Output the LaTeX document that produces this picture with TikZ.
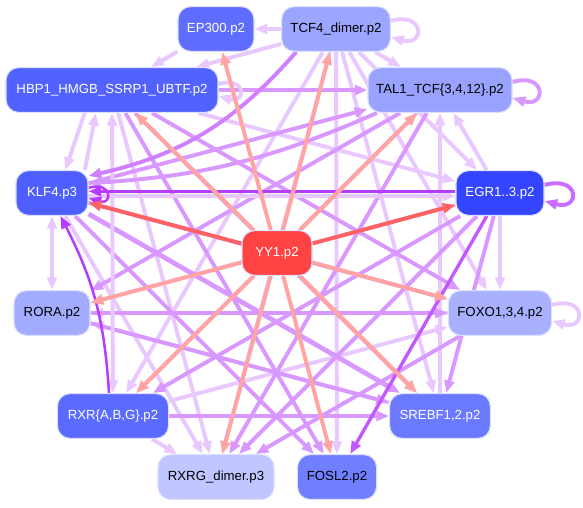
\documentclass[tikz,border=0pt]{standalone}
\usepackage{fontspec}
\setmainfont{Liberation Sans}
\usepackage{xcolor}
\usetikzlibrary{positioning, arrows.meta, backgrounds}
\definecolor{yyred}{HTML}{FF4242}
\definecolor{cEP}{HTML}{5F6DFF}
\definecolor{cTCF}{HTML}{9CA5FF}
\definecolor{cHBP}{HTML}{5262FF}
\definecolor{cTAL}{HTML}{99A2FF}
\definecolor{cKLF}{HTML}{4F5FFF}
\definecolor{cEGR}{HTML}{3444FF}
\definecolor{cRORA}{HTML}{A3ABFF}
\definecolor{cFOXO}{HTML}{A9B1FF}
\definecolor{cRXR}{HTML}{5B6AFF}
\definecolor{cSREBF}{HTML}{6B79FF}
\definecolor{cRXRG}{HTML}{C0C6FF}
\definecolor{cFOSL}{HTML}{717FFF}
\definecolor{rimcol}{HTML}{DCE0FF}
\definecolor{salmon}{HTML}{FFA3A3}
\definecolor{redline}{HTML}{FF6262}
\definecolor{purpdark}{HTML}{B63CFF}
\definecolor{purpmid}{HTML}{D898FF}
\definecolor{purplight}{HTML}{E9C8FF}
\tikzset{
  tfbox/.style={draw=rimcol, line width=0.8pt, rounded corners=9pt,
               minimum height=1.12cm, inner sep=2pt,
               font=\fontsize{9.4}{11}\selectfont},
  darkbox/.style={tfbox, text=white},
  lightbox/.style={tfbox, text=black},
  arrow/.style={-{Triangle[length=9pt,width=7pt]}, line width=2.8pt}
}

\begin{document}
\begin{tikzpicture}[x=0.025cm, y=0.025cm,
    yyedge/.style={arrow, draw=salmon},
    yystrong/.style={arrow, draw=redline},
    darkedge/.style={arrow, draw=purpdark, line width=1.8pt},
    midedge/.style={arrow, draw=purpmid},
    lightedge/.style={arrow, draw=purplight}
]
\useasboundingbox (0,0) rectangle (583,507);
% nodes
\node[darkbox, fill=cEP, minimum width=1.9cm] (EP300) at (216,478) {EP300.p2};
\node[lightbox, fill=cTCF, minimum width=2.72cm] (TCF4) at (336,478) {TCF4\_dimer.p2};
\node[darkbox, fill=cHBP, minimum width=5.3cm] (HBP1) at (112,417) {HBP1\_HMGB\_SSRP1\_UBTF.p2};
\node[lightbox, fill=cTAL, minimum width=3.6cm] (TAL1) at (440,417) {TAL1\_TCF\{3,4,12\}.p2};
\node[darkbox, fill=cKLF, minimum width=1.8cm] (KLF4) at (52,314) {KLF4.p3};
\node[darkbox, fill=cEGR, minimum width=2.2cm] (EGR) at (500,314) {EGR1..3.p2};
\node[darkbox, fill=yyred, minimum width=1.75cm] (YY1) at (277,254) {YY1.p2};
\node[lightbox, fill=cRORA, minimum width=1.9cm] (RORA) at (52,194) {RORA.p2};
\node[lightbox, fill=cFOXO, minimum width=2.58cm] (FOXO) at (500,194) {FOXO1,3,4.p2};
\node[darkbox, fill=cRXR, minimum width=2.78cm] (RXR) at (113,91) {RXR\{A,B,G\}.p2};
\node[darkbox, fill=cSREBF, minimum width=2.52cm] (SREBF) at (440,91) {SREBF1,2.p2};
\node[lightbox, fill=cRXRG, minimum width=2.9cm] (RXRG) at (216,30) {RXRG\_dimer.p3};
\node[lightbox, fill=cFOSL, minimum width=1.98cm] (FOSL2) at (337,30) {FOSL2.p2};
% edges
\begin{pgfonlayer}{background}
\foreach \s/\t in {TCF4/EP300, EP300/HBP1, TCF4/TAL1, TCF4/HBP1, TCF4/FOSL2,
                   TCF4/RXRG, TCF4/RXR, TCF4/SREBF, TCF4/FOXO, TCF4/EGR,
                   HBP1/EGR, HBP1/RXRG, EGR/FOXO, SREBF/TAL1, EGR/TAL1,
                   FOXO/RORA, SREBF/RORA, EGR/RORA, KLF4/RXRG, RXR/RXRG,
                   RXR/FOXO, TAL1/RXR}
    \draw[lightedge] (\s) -- (\t);
\foreach \s/\t in {HBP1/TAL1, KLF4/TAL1, KLF4/FOXO, HBP1/SREBF, RXR/SREBF,
                   HBP1/FOXO, KLF4/FOSL2, FOXO/RXRG, EGR/SREBF, EGR/RXR,
                   TAL1/RORA, HBP1/FOSL2, RORA/FOXO, TAL1/RXRG, EGR/RXRG,
                   RORA/SREBF}
    \draw[midedge] (\s) -- (\t);
\draw[midedge, line width=3.4pt] (KLF4) -- (SREBF);
\draw[lightedge] (HBP1.-140) -- (KLF4.60);
\draw[lightedge] (KLF4.35) -- (HBP1.-125);
\draw[lightedge, {Triangle[length=9pt,width=7pt]}-{Triangle[length=9pt,width=7pt]}] (KLF4) -- (RORA);
\draw[lightedge, {Triangle[length=9pt,width=7pt]}-{Triangle[length=9pt,width=7pt]}] (HBP1) -- (RXR);
\draw[lightedge] ([yshift=-2pt]KLF4.east) -- ([yshift=-2pt]EGR.west);
\draw[darkedge] ([yshift=1.2pt]EGR.west) -- ([yshift=1.2pt]KLF4.east);
\draw[darkedge, draw=purpdark!85, line width=2.4pt] (EGR) -- (FOSL2);
\draw[darkedge] (RXR.100) to[bend right=12] (KLF4.-70);
\draw[midedge, draw=purpdark!65] (TCF4.-150) to[bend left=18] (KLF4.25);
\draw[midedge] (TAL1.-160) to[bend left=10] (KLF4.15);
% self loops
\draw[lightedge] ([yshift=0.2cm]TCF4.east) .. controls +(34,10) and +(34,-10) .. ([yshift=-0.2cm]TCF4.east);
\draw[lightedge] ([yshift=0.15cm]HBP1.east) .. controls +(28,8) and +(28,-8) .. ([yshift=-0.15cm]HBP1.east);
\draw[midedge] ([yshift=0.2cm]TAL1.east) .. controls +(34,10) and +(34,-10) .. ([yshift=-0.2cm]TAL1.east);
\draw[darkedge] ([yshift=0.13cm]KLF4.east) .. controls +(24,7) and +(24,-7) .. ([yshift=-0.13cm]KLF4.east);
\draw[midedge, draw=purpdark!75] ([yshift=0.2cm]EGR.east) .. controls +(36,10) and +(36,-10) .. ([yshift=-0.2cm]EGR.east);
\draw[lightedge] ([yshift=0.2cm]FOXO.east) .. controls +(34,10) and +(34,-10) .. ([yshift=-0.2cm]FOXO.east);
% YY1 on top
\foreach \t in {HBP1,TCF4,RXRG,RXR,FOSL2,EP300,TAL1,RORA,FOXO,SREBF}
    \draw[yyedge] (YY1) -- (\t);
\foreach \t in {KLF4,EGR}
    \draw[yystrong] (YY1) -- (\t);
\end{pgfonlayer}
\end{tikzpicture}
\end{document}
